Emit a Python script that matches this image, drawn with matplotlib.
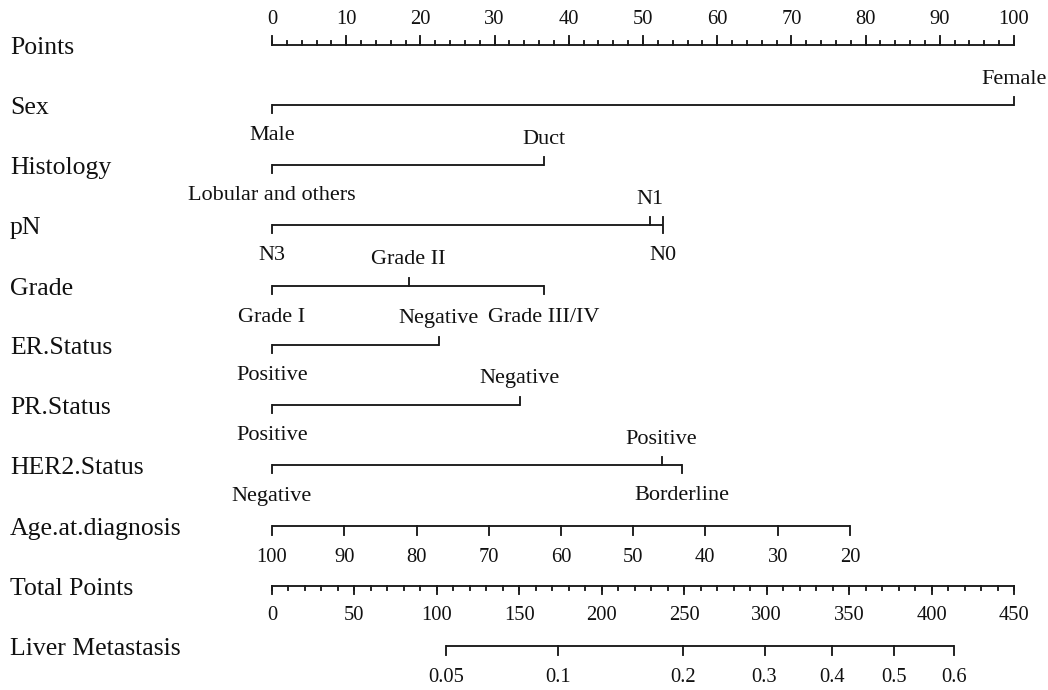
import numpy as np
import matplotlib.pyplot as plt

plt.rcParams['font.family'] = ['Liberation Serif', 'DejaVu Serif']

# Points scale (0-100) and its tick marks
points_major = np.arange(0, 101, 10)
points_minor = np.arange(0, 101, 2)

# Categorical predictors: level names, points, and which side the label sits on
sex_levels = ['Male', 'Female']
sex_points = [0, 100]
sex_sides = ['below', 'above']

histology_levels = ['Lobular and others', 'Duct']
histology_points = [0, 36.6]
histology_sides = ['below', 'above']

pn_levels = ['N3', 'N1', 'N0']
pn_points = [0, 51.0, 52.7]
pn_sides = ['below', 'above', 'both']

grade_levels = ['Grade I', 'Grade II', 'Grade III/IV']
grade_points = [0, 18.4, 36.6]
grade_sides = ['below', 'above', 'below']

er_levels = ['Positive', 'Negative']
er_points = [0, 22.5]
er_sides = ['below', 'above']

pr_levels = ['Positive', 'Negative']
pr_points = [0, 33.4]
pr_sides = ['below', 'above']

her2_levels = ['Negative', 'Positive', 'Borderline']
her2_points = [0, 52.5, 55.2]
her2_sides = ['below', 'above', 'below']

# Age at diagnosis (years) and the points each tick sits at
age_ticks = [100, 90, 80, 70, 60, 50, 40, 30, 20]
age_points = [0, 9.74, 19.5, 29.2, 39.0, 48.7, 58.4, 68.2, 77.9]

# Total points scale
total_max = 450
total_major = np.arange(0, 451, 50)
total_minor = np.arange(0, 451, 10)

# Predicted probability of liver metastasis vs total points
liver_probs = ['0.05', '0.1', '0.2', '0.3', '0.4', '0.5', '0.6']
liver_total = [105.5, 173.4, 249.2, 298.7, 339.6, 377.2, 413.9]

LINE = '#1a1a1a'
TEXT = '#111111'
LW = 1.35
ROW_FS = 18.5
WORD_FS = 16
NUM_FS = 14.8

W, H = 1048, 690
X0, X1 = 272, 1014           # pixel span of the 0-100 points scale
scale = (X1 - X0) / 100.0

fig = plt.figure(figsize=(W / 100, H / 100), dpi=100)
ax = fig.add_axes([0, 0, 1, 1])
ax.set_xlim(-X0 / scale, (W - X0) / scale)
ax.set_ylim(H, 0)
ax.axis('off')

label_x = (10 - X0) / scale


def row_label(y, name):
    ax.text(label_x, y + 3, name, ha='left', va='center',
            fontsize=ROW_FS, color=TEXT)


def draw_factor(y, name, levels, pts, sides, tick=8, off_up=26, off_dn=31):
    row_label(y, name)
    ax.plot([min(pts), max(pts)], [y, y], color=LINE, lw=LW,
            solid_capstyle='butt')
    for lab, p, s in zip(levels, pts, sides):
        if s == 'above':
            ax.plot([p, p], [y, y - tick], color=LINE, lw=LW)
            ax.text(p, y - off_up, lab, ha='center', va='center',
                    fontsize=WORD_FS, color=TEXT)
        else:
            top = y - tick if s == 'both' else y
            ax.plot([p, p], [top, y + tick], color=LINE, lw=LW)
            ax.text(p, y + off_dn, lab, ha='center', va='center',
                    fontsize=WORD_FS, color=TEXT)


def draw_scale(y, name, major_pos, major_lab, minor_pos=None, up=False,
               tick=8, minor_tick=4, off=30):
    row_label(y, name)
    sgn = -1 if up else 1
    ax.plot([min(major_pos), max(major_pos)], [y, y], color=LINE, lw=LW,
            solid_capstyle='butt')
    if minor_pos is not None:
        for p in minor_pos:
            ax.plot([p, p], [y, y + sgn * minor_tick], color=LINE, lw=LW)
    for p, lab in zip(major_pos, major_lab):
        ax.plot([p, p], [y, y + sgn * tick], color=LINE, lw=LW)
        ax.text(p, y + sgn * off, lab, ha='center', va='center',
                fontsize=NUM_FS, color=TEXT)


# Points
draw_scale(45, 'Points', points_major, [str(v) for v in points_major],
           minor_pos=points_minor, up=True, tick=9, minor_tick=4, off=25)

draw_factor(105, 'Sex', sex_levels, sex_points, sex_sides)
draw_factor(165, 'Histology', histology_levels, histology_points, histology_sides)
draw_factor(225, 'pN', pn_levels, pn_points, pn_sides)
draw_factor(286, 'Grade', grade_levels, grade_points, grade_sides)
draw_factor(345, 'ER.Status', er_levels, er_points, er_sides)
draw_factor(405, 'PR.Status', pr_levels, pr_points, pr_sides)
draw_factor(465, 'HER2.Status', her2_levels, her2_points, her2_sides)

# Age at diagnosis
draw_scale(526, 'Age.at.diagnosis', age_points, [str(a) for a in age_ticks],
           tick=9, off=31)

# Total points, mapped onto the 0-100 points axis
to_pts = 100.0 / total_max
draw_scale(586, 'Total Points', total_major * to_pts,
           [str(v) for v in total_major], minor_pos=total_minor * to_pts,
           tick=8, minor_tick=4, off=30)

# Liver metastasis probability
draw_scale(646, 'Liver Metastasis', np.array(liver_total) * to_pts,
           liver_probs, tick=9, off=31)

fig.savefig('out.png', dpi=100, facecolor='white')
